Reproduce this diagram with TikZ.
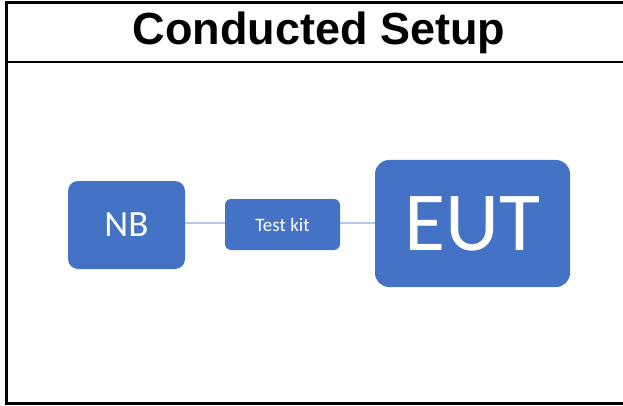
\documentclass[tikz,border=0pt]{standalone}
\usepackage{fontspec}
\setmainfont{Liberation Sans}
\newfontfamily\calib{Carlito}
\definecolor{boxblue}{HTML}{4472C4}
\definecolor{lineblue}{HTML}{B4C7E7}
\begin{document}
\begin{tikzpicture}[x=1pt,y=-1pt,
  frame/.style={line width=2.5pt,black},
  bluebox/.style={fill=boxblue,draw=none,rounded corners=10pt,text=white,inner sep=0pt},
  link/.style={lineblue,line width=1.2pt}]
\useasboundingbox (0,0) rectangle (623,406);
\draw[frame] (623,2.5) -- (6.5,2.5) -- (6.5,403.5) -- (623,403.5);
\draw[frame] (6.5,62) -- (623,62);
\node[font=\bfseries\fontsize{45}{50}\selectfont] (title) at (319,33) {Conducted Setup};
\node[bluebox,minimum width=117pt,minimum height=88pt] (nb) at (126.5,225) {\calib\fontsize{37}{40}\selectfont NB};
\node[bluebox,rounded corners=6pt,minimum width=115pt,minimum height=51pt] (kit) at (282.5,224.5) {\calib\fontsize{19}{22}\selectfont Test kit};
\node[bluebox,rounded corners=14pt,minimum width=195pt,minimum height=127pt] (eut) at (472.5,223.5) {\calib\fontsize{84}{90}\selectfont EUT};
\draw[link] (nb.east |- 0,223) -- (kit.west |- 0,223);
\draw[link] (kit.east |- 0,223) -- (eut.west |- 0,223);
\end{tikzpicture}
\end{document}
